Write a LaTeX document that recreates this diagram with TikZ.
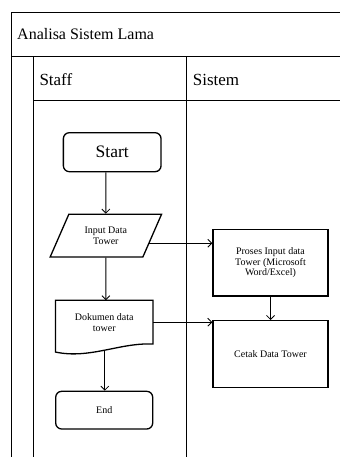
\documentclass[tikz,border=0pt]{standalone}
\usepackage{fontspec}
\setmainfont{Liberation Serif}
\usetikzlibrary{positioning,shapes.geometric,arrows.meta}

\begin{document}
\begin{tikzpicture}[x=1pt,y=1pt,
  frame/.style={line width=0.9pt},
  box/.style={draw, line width=1.3pt, align=center, font=\fontsize{10}{11}\selectfont},
  term/.style={box, rectangle, rounded corners=6pt},
  io/.style={box, trapezium, trapezium left angle=63, trapezium right angle=117,
    trapezium stretches=true, minimum width=111.7pt, minimum height=42.7pt},
  proc/.style={box, rectangle, minimum width=115pt, minimum height=66.7pt,
    font=\fontsize{10}{10.5}\selectfont},
  doc/.style={rectangle, align=center, minimum width=97pt, minimum height=43.4pt,
    font=\fontsize{10}{11}\selectfont},
  head/.style={anchor=base west, inner sep=0pt},
  arrow/.style={-{Straight Barb[length=4pt,width=8pt]}, line width=0.85pt}]
\useasboundingbox (0,0) rectangle (340,457);

% swimlane frame
\draw [frame] (11,0) -- (11,445) -- (340,445);
\draw [frame] (11,401) -- (340,401);
\draw [frame] (33,0) -- (33,401);
\draw [frame] (33,357) -- (340,357);
\draw [frame] (186,0) -- (186,401);

\node [head, font=\fontsize{16}{19}\selectfont] (title) at (17,417.7) {Analisa Sistem Lama};
\node [head, font=\fontsize{17}{20}\selectfont] (staff) at (39.3,371) {Staff};
\node [head, font=\fontsize{17}{20}\selectfont] (sistem) at (192.7,371) {Sistem};

% staff lane
\node [term, minimum width=97.7pt, minimum height=39pt, font=\fontsize{17.5}{20}\selectfont] (start) at (112.2,304.8) {Start};
\node [io] (input) [below=41.3pt of start, xshift=-6.35pt] {Input Data\\Tower};
\node [doc] (dokumen) [below=42.6pt of input, xshift=-1.65pt] {Dokumen data\\tower};
\node [term, minimum width=97pt, minimum height=37.7pt] (stop) [below=46.6pt of dokumen] {End};
\draw [box] ([yshift=-8pt]dokumen.south west) -- (dokumen.north west) -- (dokumen.north east)
  -- (dokumen.south east) .. controls +(-32.7,1.7) and +(34.3,-7.3) .. ([yshift=-8pt]dokumen.south west)
  coordinate [pos=0.5] (dokumen_b) -- cycle;

% sistem lane
\node [proc] (proses) at (270.5,194.3) {Proses Input data\\Tower (Microsoft\\Word/Excel)};
\node [proc] (cetak) [below=23.3pt of proses] {Cetak Data Tower};

\coordinate (input_r) at ([xshift=-4pt,yshift=-7.6pt]input.east);
\path [arrow]
(start.south -| input.north) edge (input)
(input) edge (input |- dokumen.north)
(dokumen_b) edge (dokumen_b |- stop.north)
(input_r) edge (input_r -| proses.west)
(dokumen.east) edge (dokumen.east -| cetak.west)
(proses) edge (cetak);
\end{tikzpicture}
\end{document}
